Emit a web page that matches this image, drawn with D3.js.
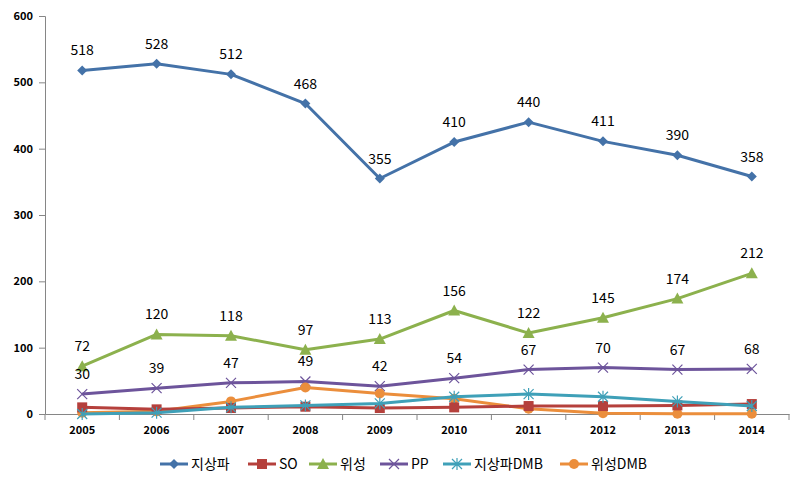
<!DOCTYPE html>
<html><head><meta charset="utf-8">
<script src="https://cdn.jsdelivr.net/npm/d3@7"></script>
<style>body{margin:0;background:#fff;} svg{display:block;}</style>
</head><body>
<svg id="c" width="805" height="485"></svg>
<script>
const years = ["2005","2006","2007","2008","2009","2010","2011","2012","2013","2014"];
const yTicks = [0,100,200,300,400,500,600];
const seriesNames = ["지상파","SO","위성","PP","지상파DMB","위성DMB"];
const terrestrial = [518,528,512,468,355,410,440,411,390,358];
const so = [10,7,9,11,9,10,12,12,13,15];
const satellite = [72,120,118,97,113,156,122,145,174,212];
const pp = [30,39,47,49,42,54,67,70,67,68];
const terrestrialDmb = [0,2,10,13,16,26,30,26,19,12];
const satelliteDmb = [2,4,19,40,31,23,8,1,0.5,0.5];
const colors = ["#4472A8","#B5403C","#8CB14D","#6D549B","#3FA0B8","#EB8E3C"];
const markers = ["diamond","square","triangle","x","star","circle"];
const labelled = [true,false,true,true,false,false];
const allValues = [terrestrial,so,satellite,pp,terrestrialDmb,satelliteDmb];

const svg = d3.select("#c");
const m = {l:45, r:16, t:16, b:71};
const W = 805, H = 485;
const x = d3.scaleBand().domain(years).range([m.l, W - m.r]);
const y = d3.scaleLinear().domain([0,600]).range([H - m.b, m.t]);
const cx = d => x(d) + x.bandwidth()/2;
const font = "'Malgun Gothic','Noto Sans CJK KR',sans-serif";

// axes
const yAx = svg.append("g").attr("transform",`translate(${m.l},0)`)
  .call(d3.axisLeft(y).tickValues(yTicks).tickSize(6).tickPadding(6));
yAx.select(".domain").attr("stroke","#868686");
yAx.selectAll(".tick line").attr("stroke","#868686");
yAx.selectAll("text").attr("font-family",font).attr("font-size","11px").attr("font-weight","bold").attr("fill","#000");

const xAx = svg.append("g").attr("transform",`translate(0,${y(0)})`)
  .call(d3.axisBottom(x).tickSize(0).tickPadding(12));
xAx.select(".domain").attr("stroke","#868686");
xAx.selectAll("text").attr("font-family",font).attr("font-size","11px").attr("font-weight","bold").attr("fill","#000");
// tick marks at band boundaries
const bounds = years.map(d => x(d)).concat([x(years[years.length-1]) + x.bandwidth()]);
xAx.selectAll(".bt").data(bounds).enter().append("line")
  .attr("x1",d=>d).attr("x2",d=>d).attr("y1",0).attr("y2",6).attr("stroke","#868686");

function drawMarker(g, type, color, px, py, s) {
  if (type === "diamond") {
    g.append("path").attr("d",`M${px},${py-5}L${px+5},${py}L${px},${py+5}L${px-5},${py}Z`).attr("fill",color);
  } else if (type === "square") {
    g.append("rect").attr("x",px-5).attr("y",py-5).attr("width",10).attr("height",10).attr("fill",color);
  } else if (type === "triangle") {
    g.append("path").attr("d",`M${px},${py-6}L${px+6},${py+5}L${px-6},${py+5}Z`).attr("fill",color);
  } else if (type === "x") {
    g.append("path").attr("d",`M${px-5},${py-5}L${px+5},${py+5}M${px+5},${py-5}L${px-5},${py+5}`).attr("stroke",color).attr("stroke-width",1.2);
  } else if (type === "star") {
    g.append("path").attr("d",`M${px-5},${py-5}L${px+5},${py+5}M${px+5},${py-5}L${px-5},${py+5}M${px},${py-6}L${px},${py+6}`).attr("stroke",color).attr("stroke-width",1.2);
  } else if (type === "circle") {
    g.append("circle").attr("cx",px).attr("cy",py).attr("r",5).attr("fill",color);
  }
}

const line = d3.line().x((d,i)=>cx(years[i])).y(d=>y(d));
const drawOrder = [0,2,3,5,1,4];
drawOrder.forEach(si => {
  const vals = allValues[si];
  const g = svg.append("g");
  g.append("path").attr("d",line(vals)).attr("fill","none").attr("stroke",colors[si]).attr("stroke-width",3).attr("stroke-linejoin","round");
  vals.forEach((v,i)=>drawMarker(g, markers[si], colors[si], cx(years[i]), y(v)));
});
// labels
[0,2,3].forEach(si => {
  allValues[si].forEach((v,i)=>{
    svg.append("text").attr("x",cx(years[i])).attr("y",y(v)-15)
      .attr("text-anchor","middle").attr("font-family",font).attr("font-size","14px").attr("fill","#000").text(v);
  });
});

// legend
const legX = [160,248,309,380,443,560];
const ly = 464;
seriesNames.forEach((n,i)=>{
  const g = svg.append("g");
  g.append("line").attr("x1",legX[i]).attr("x2",legX[i]+28).attr("y1",ly).attr("y2",ly).attr("stroke",colors[i]).attr("stroke-width",3);
  drawMarker(g, markers[i], colors[i], legX[i]+14, ly);
  g.append("text").attr("x",legX[i]+31).attr("y",ly+5).attr("font-family",font).attr("font-size","14px").attr("fill","#000").text(n);
});
</script>
</body></html>
